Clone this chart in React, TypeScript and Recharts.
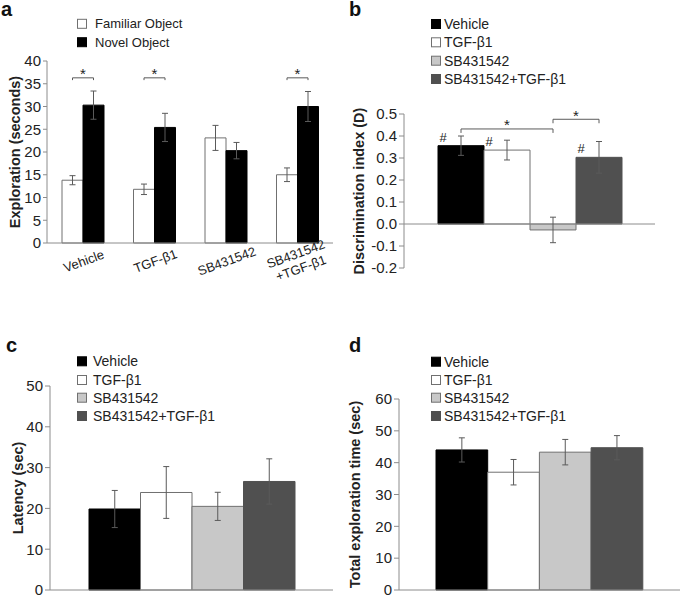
import React from 'react';
import { BarChart, Bar, XAxis, YAxis, ErrorBar, ReferenceLine, Rectangle } from 'recharts';

const FONT = '"Liberation Sans", Arial, Helvetica, sans-serif';
const TEXT = '#222222';
const AXIS = '#8c8c8c';
const ERR = '#5a5a5a';
const OUTLINE = '#707070';

// ---------- Panel a data ----------
const categoriesA = ['Vehicle', 'TGF-β1', 'SB431542', 'SB431542\n+TGF-β1'];
const familiarA = [13.8, 11.8, 23.1, 15.0];
const familiarErrA = [1.0, 1.15, 2.75, 1.5];
const novelA = [30.3, 25.4, 20.3, 30.0];
const novelErrA = [3.1, 3.1, 1.8, 3.3];
const significantA = [true, true, false, true];
const bracketLevelA = 36.3;
const bracketDropA = 0.5;
const ticksA = [0, 5, 10, 15, 20, 25, 30, 35, 40];
const seriesNamesA = ['Familiar Object', 'Novel Object'];

// ---------- Groups (b, c, d) ----------
const groups = ['Vehicle', 'TGF-β1', 'SB431542', 'SB431542+TGF-β1'];
const groupKeys = ['vehicle', 'tgf', 'sb', 'sbtgf'];

const discriminationB = [0.356, 0.336, -0.027, 0.303];
const discriminationErrB = [0.044, 0.045, 0.058, 0.072];
const hashMarkedB = [true, true, false, true];
const bracketsB = [
  { from: 0, to: 2, level: 0.432, drop: 0.018 },
  { from: 2, to: 3, level: 0.476, drop: 0.018 },
];
const ticksB = [-0.2, -0.1, 0, 0.1, 0.2, 0.3, 0.4, 0.5];

const latencyC = [19.85, 23.9, 20.5, 26.6];
const latencyErrC = [4.55, 6.35, 3.45, 5.55];
const ticksC = [0, 10, 20, 30, 40, 50];

const totalD = [44.0, 37.0, 43.3, 44.7];
const totalErrD = [3.8, 4.0, 4.0, 3.8];
const ticksD = [0, 10, 20, 30, 40, 50, 60];

const FILLS = ['#000000', '#ffffff', '#c8c8c8', '#505050'];
const STROKES = ['#000000', OUTLINE, OUTLINE, '#505050'];

const dataA = categoriesA.map((c, i) => ({
  cat: c,
  familiar: familiarA[i],
  familiarErr: familiarErrA[i],
  novel: novelA[i],
  novelErr: novelErrA[i],
  sig: significantA[i],
}));

function groupRow(values: number[], errs: number[]) {
  const row: any = { name: '' };
  groupKeys.forEach((k, i) => {
    row[k] = values[i];
    row[k + 'Err'] = errs[i];
  });
  return row;
}

function RotatedTick(props: any) {
  const { x, y, payload } = props;
  const lines = String(payload.value).split('\n');
  const lh = 15;
  return (
    <g transform={`translate(${x + 1},${y + 18}) rotate(-20)`}>
      <text textAnchor="middle" fontSize={13} fill={TEXT} fontFamily={FONT}>
        {lines.map((l, i) => (
          <tspan key={i} x={0} y={(i - (lines.length - 1) / 2) * lh} dy="0.35em">
            {l}
          </tspan>
        ))}
      </text>
    </g>
  );
}

function NovelShape(props: any) {
  const { x, y, width, height, payload, fill, stroke } = props;
  const v = payload.novel;
  const k = height / v;
  const zeroY = y + height;
  const Y = (val: number) => zeroY - val * k;
  const cx = x + width / 2;
  const fx = cx - width;
  return (
    <g>
      <Rectangle x={x} y={y} width={width} height={height} fill={fill} stroke={stroke} />
      {payload.sig && (
        <g>
          <path
            d={`M${fx},${Y(bracketLevelA - bracketDropA)}V${Y(bracketLevelA)}H${cx}V${Y(bracketLevelA - bracketDropA)}`}
            fill="none"
            stroke={ERR}
            strokeWidth={1}
          />
          <text x={(fx + cx) / 2} y={Y(bracketLevelA) + 1.5} textAnchor="middle" fontSize={15} fontFamily={FONT} fill={TEXT}>
            *
          </text>
        </g>
      )}
    </g>
  );
}

function annotateB(i: number, props: any) {
  const { x, y, width, height, fill, stroke } = props;
  const v = discriminationB[i];
  const rect = <Rectangle x={x} y={y} width={width} height={height} fill={fill} stroke={stroke} />;
  if (v <= 0) return <g>{rect}</g>;
  const k = height / v;
  const zeroY = y + height;
  const Y = (val: number) => zeroY - val * k;
  const cx = x + width / 2;
  const centerOf = (j: number) => cx - (i - j) * width;
  return (
    <g>
      {rect}
      {hashMarkedB[i] && (
        <text x={x + 5} y={Y(v) - 4} textAnchor="middle" fontSize={13} fontFamily={FONT} fill={TEXT}>
          #
        </text>
      )}
      {i === groupKeys.length - 1 &&
        bracketsB.map((b, bi) => {
          const x1 = centerOf(b.from);
          const x2 = centerOf(b.to);
          return (
            <g key={bi}>
              <path
                d={`M${x1},${Y(b.level - b.drop)}V${Y(b.level)}H${x2}V${Y(b.level - b.drop)}`}
                fill="none"
                stroke={ERR}
                strokeWidth={1}
              />
              <text x={(x1 + x2) / 2} y={Y(b.level) + 1.5} textAnchor="middle" fontSize={15} fontFamily={FONT} fill={TEXT}>
                *
              </text>
            </g>
          );
        })}
    </g>
  );
}

const tickStyle = { fontSize: 15, fill: TEXT, fontFamily: FONT };
const labelStyle = { textAnchor: 'middle', fontWeight: 'bold', fontSize: 14.5, fill: TEXT, fontFamily: FONT };

function PanelA() {
  return (
    <div style={{ position: 'absolute', left: 0, top: 0 }}>
      <BarChart width={340} height={300} data={dataA} margin={{ top: 61, right: 7, bottom: 0, left: 0 }} barGap={0}>
        <XAxis
          dataKey="cat"
          height={57}
          tickLine={false}
          tickSize={0}
          tickMargin={0}
          axisLine={{ stroke: AXIS }}
          tick={(p: any) => <RotatedTick {...p} />}
          interval={0}
        />
        <YAxis
          width={47}
          domain={[0, 40]}
          ticks={ticksA}
          interval={0}
          tickSize={4}
          tickLine={{ stroke: AXIS }}
          axisLine={{ stroke: AXIS }}
          tick={tickStyle}
          label={{ value: 'Exploration (seconds)', angle: -90, position: 'insideLeft', offset: 15, style: labelStyle }}
        />
        <Bar dataKey="familiar" name={seriesNamesA[0]} barSize={21} fill="#ffffff" stroke={OUTLINE} isAnimationActive={false}>
          <ErrorBar dataKey="familiarErr" width={3} stroke={ERR} strokeWidth={1} isAnimationActive={false} />
        </Bar>
        <Bar
          dataKey="novel"
          name={seriesNamesA[1]}
          barSize={21}
          fill="#000000"
          stroke="#000000"
          isAnimationActive={false}
          shape={(p: any) => <NovelShape {...p} />}
        >
          <ErrorBar dataKey="novelErr" width={3} stroke={ERR} strokeWidth={1} isAnimationActive={false} />
        </Bar>
      </BarChart>
    </div>
  );
}

function GroupPanel(props: any) {
  const { values, errs, left, top, width, height, margin, yAxisWidth, domain, ticks, yLabel, labelOffset, labelDx, barSize, tickFormatter, zeroLine, annotate, showXAxis } = props;
  const data = [groupRow(values, errs)];
  return (
    <div style={{ position: 'absolute', left, top }}>
      <BarChart width={width} height={height} data={data} margin={margin} barGap={0}>
        <XAxis dataKey="name" hide={!showXAxis} height={showXAxis ? 6 : 0} tick={false} tickLine={false} axisLine={{ stroke: AXIS }} />
        <YAxis
          width={yAxisWidth}
          domain={domain}
          ticks={ticks}
          interval={0}
          tickSize={5}
          tickLine={{ stroke: AXIS }}
          axisLine={{ stroke: AXIS }}
          tick={tickStyle}
          tickFormatter={tickFormatter}
          label={{ value: yLabel, angle: -90, position: 'insideLeft', offset: labelOffset, dx: labelDx || 0, style: labelStyle }}
        />
        {zeroLine && <ReferenceLine y={0} stroke={AXIS} />}
        {groupKeys.map((k, i) => (
          <Bar
            key={k}
            dataKey={k}
            name={groups[i]}
            barSize={barSize}
            fill={FILLS[i]}
            stroke={STROKES[i]}
            isAnimationActive={false}
            shape={annotate ? (p: any) => annotate(i, p) : undefined}
          >
            <ErrorBar dataKey={k + 'Err'} width={3} stroke={ERR} strokeWidth={1} isAnimationActive={false} />
          </Bar>
        ))}
      </BarChart>
    </div>
  );
}

function LegendBox({ x, rows, textX, fontSize, items }: any) {
  return (
    <g>
      {items.map((it: any, i: number) => (
        <g key={i}>
          <rect x={x + 0.5} y={rows[i] - 4.5} width={9} height={9} fill={it.fill} stroke={it.stroke} strokeWidth={1} />
          <text x={textX} y={rows[i]} dominantBaseline="central" fontSize={fontSize} fontFamily={FONT} fill={TEXT}>
            {it.name}
          </text>
        </g>
      ))}
    </g>
  );
}

const groupLegendItems = groups.map((g, i) => ({ name: g, fill: FILLS[i], stroke: STROKES[i] }));
const legendItemsA = [
  { name: seriesNamesA[0], fill: '#ffffff', stroke: OUTLINE },
  { name: seriesNamesA[1], fill: '#000000', stroke: '#000000' },
];

export default function App() {
  return (
    <div style={{ position: 'absolute', left: 0, top: 0, width: 685, height: 596, background: '#fff', overflow: 'hidden', fontFamily: FONT }}>
      <PanelA />
      <GroupPanel
        values={discriminationB}
        errs={discriminationErrB}
        left={340}
        top={0}
        width={345}
        height={300}
        margin={{ top: 114, right: 30, bottom: 32, left: 0 }}
        yAxisWidth={64}
        domain={[-0.2, 0.5]}
        ticks={ticksB}
        yLabel="Discrimination index (D)"
        labelOffset={15}
        labelDx={4}
        barSize={46}
        tickFormatter={(v: number) => v.toFixed(1)}
        zeroLine
        annotate={annotateB}
        showXAxis={false}
      />
      <GroupPanel
        values={latencyC}
        errs={latencyErrC}
        left={0}
        top={300}
        width={340}
        height={296}
        margin={{ top: 86, right: 7, bottom: 0, left: 0 }}
        yAxisWidth={50}
        domain={[0, 50]}
        ticks={ticksC}
        yLabel="Latency (sec)"
        labelOffset={18}
        barSize={51.5}
        showXAxis
      />
      <GroupPanel
        values={totalD}
        errs={totalErrD}
        left={340}
        top={300}
        width={345}
        height={296}
        margin={{ top: 99, right: 5, bottom: 0, left: 0 }}
        yAxisWidth={59}
        domain={[0, 60]}
        ticks={ticksD}
        yLabel="Total exploration time (sec)"
        labelOffset={15}
        barSize={51.7}
        showXAxis
      />
      <svg width={685} height={596} style={{ position: 'absolute', left: 0, top: 0, pointerEvents: 'none' }}>
        <g fontFamily={FONT} fontWeight="bold" fontSize={20} fill="#111">
          <text x={1} y={16}>a</text>
          <text x={349} y={16}>b</text>
          <text x={6} y={352}>c</text>
          <text x={349} y={352}>d</text>
        </g>
        <LegendBox x={77} rows={[23.8, 42.2]} textX={95} fontSize={13} items={legendItemsA} />
        <LegendBox x={431} rows={[24, 42.3, 60.7, 79]} textX={444} fontSize={14} items={groupLegendItems} />
        <LegendBox x={77} rows={[361.3, 380, 397.7, 416]} textX={93} fontSize={14} items={groupLegendItems} />
        <LegendBox x={431} rows={[361.7, 380, 397.7, 416]} textX={444} fontSize={14} items={groupLegendItems} />
      </svg>
    </div>
  );
}
